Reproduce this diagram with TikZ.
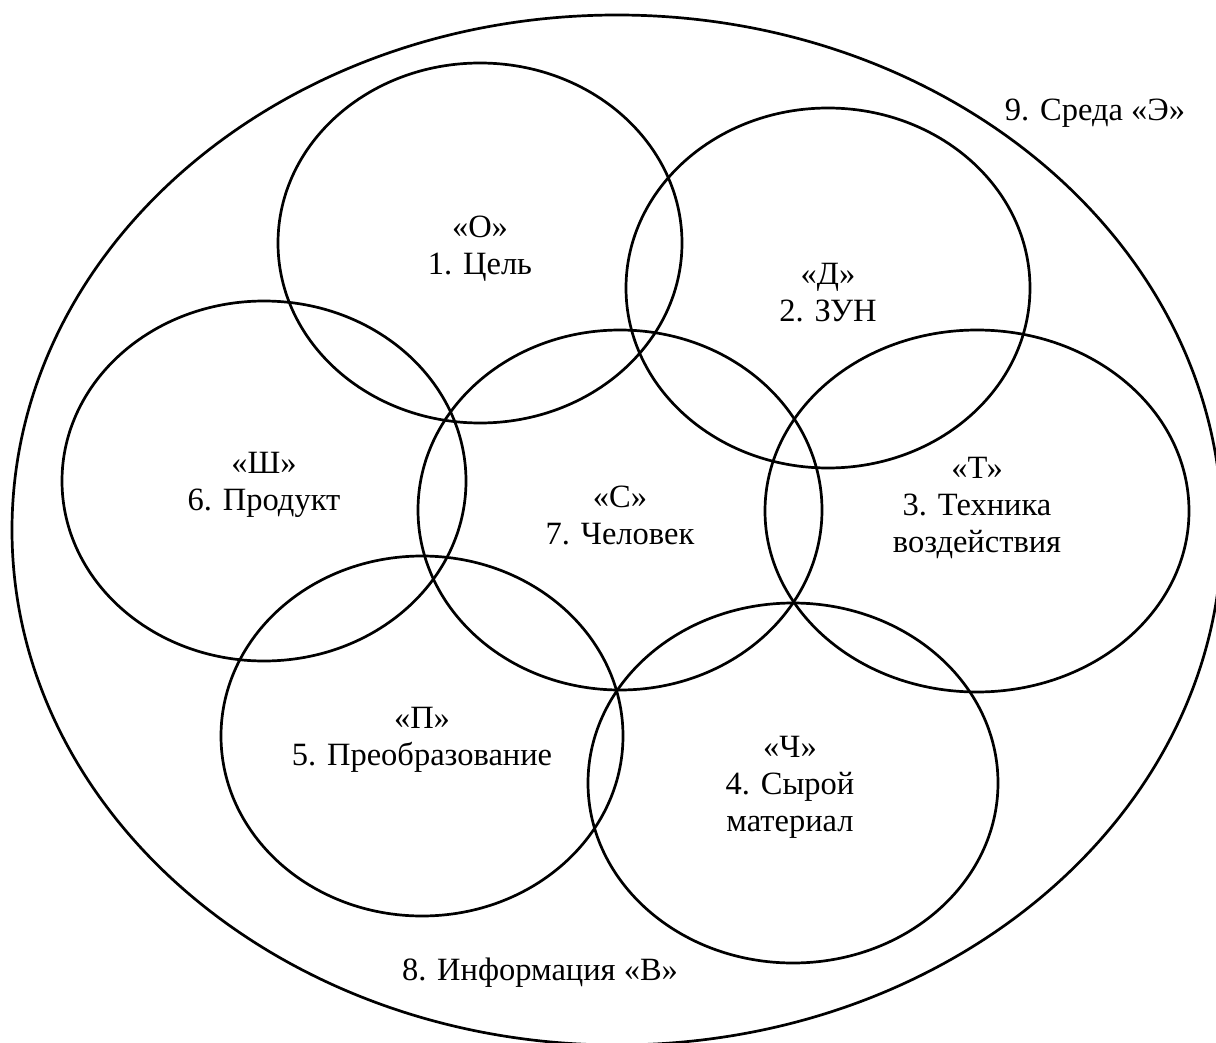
\documentclass[tikz,border=0pt]{standalone}
\usepackage{fontspec}
\setmainfont{Liberation Serif}
\usetikzlibrary{shapes.geometric}
\begin{document}
\begin{tikzpicture}[x=1pt,y=-1pt,
  ring/.style={draw=black, line width=2.7pt, ellipse, inner sep=0pt, outer sep=0pt},
  lbl/.style={align=center, inner sep=0pt, font=\fontsize{32.5pt}{37pt}\selectfont}]
\useasboundingbox (0,0) rectangle (1216,1043);
\clip (0,0) rectangle (1216,1043);
% outer environment
\node[ring, minimum width=1210pt, minimum height=1030pt] (env) at (617,530) {};
% seven elements
\node[ring, minimum width=404pt, minimum height=360pt] (c1) at (480,243) {};
\node[ring, minimum width=404pt, minimum height=360pt] (c2) at (828,288) {};
\node[ring, minimum width=424pt, minimum height=362pt] (c3) at (977,511) {};
\node[ring, minimum width=410pt, minimum height=360pt] (c4) at (793,783) {};
\node[ring, minimum width=402pt, minimum height=360pt] (c5) at (422,736) {};
\node[ring, minimum width=404pt, minimum height=360pt] (c6) at (264,481) {};
\node[ring, minimum width=404pt, minimum height=360pt] (c7) at (620,510) {};
% labels
\node[lbl] (t1) at (480,249) {«О»\\1. Цель};
\node[lbl] (t2) at (828,293) {«Д»\\2. ЗУН};
\node[lbl] (t3) at (977,508) {«Т»\\3. Техника\\воздействия};
\node[lbl] (t4) at (790,787) {«Ч»\\4. Сырой\\материал};
\node[lbl] (t5) at (422,740) {«П»\\5. Преобразование};
\node[lbl] (t6) at (264,485) {«Ш»\\6. Продукт};
\node[lbl] (t7) at (620,515) {«С»\\7. Человек};
\node[lbl] (t8) at (540,973) {8. Информация «В»};
\node[lbl] (t9) at (1095,113) {9. Среда «Э»};
\end{tikzpicture}
\end{document}
